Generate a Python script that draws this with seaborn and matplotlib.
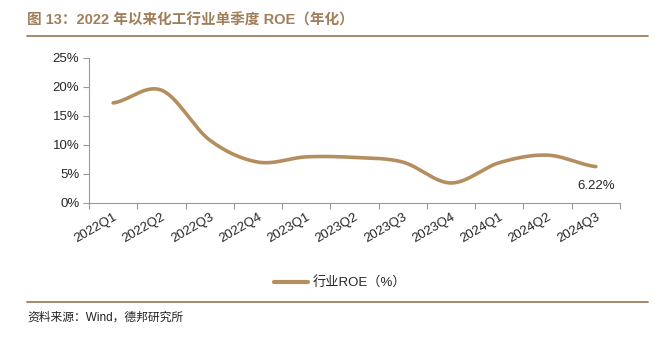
import numpy as np
import pandas as pd
import matplotlib
matplotlib.use("Agg")
import matplotlib.pyplot as plt
import seaborn as sns

categories = ["2022Q1", "2022Q2", "2022Q3", "2022Q4", "2023Q1", "2023Q2",
              "2023Q3", "2023Q4", "2024Q1", "2024Q2", "2024Q3"]
roe = [17.2, 19.4, 10.8, 7.0, 7.9, 7.8, 7.0, 3.4, 6.9, 8.2, 6.22]
series_name = "行业ROE（%）"
yticks = [0, 5, 10, 15, 20, 25]

sns.set_theme(style="white")
plt.rcParams['font.family'] = ['Liberation Sans', 'Noto Sans CJK SC', 'DejaVu Sans']
plt.rcParams['axes.unicode_minus'] = False

LINE_C = "#B48E5F"
TITLE_C = "#A07E5A"

fig = plt.figure(figsize=(6.55, 3.41), dpi=100)
ax = fig.add_axes([0.1359, 0.4056, 0.9466 - 0.1359, 0.8308 - 0.4056])

# Smooth (Catmull-Rom, like Excel's smoothed line) rendering through the data points
x = np.arange(len(roe), dtype=float)
y = np.array(roe, dtype=float)
xs, ys = [], []
for i in range(len(x) - 1):
    p0 = y[i - 1] if i > 0 else y[i]
    p1, p2 = y[i], y[i + 1]
    p3 = y[i + 2] if i + 2 < len(y) else y[i + 1]
    c1 = p1 + (p2 - p0) / 6.0
    c2 = p2 - (p3 - p1) / 6.0
    t = np.linspace(0, 1, 30, endpoint=(i == len(x) - 2))
    b = (1 - t) ** 3 * p1 + 3 * (1 - t) ** 2 * t * c1 + 3 * (1 - t) * t ** 2 * c2 + t ** 3 * p2
    xs.extend(x[i] + t)
    ys.extend(b)
df = pd.DataFrame({"x": xs, "y": ys, "s": series_name})
sns.lineplot(data=df, x="x", y="y", hue="s", palette=[LINE_C], linewidth=2.6,
             ax=ax, legend=True, sort=False)

ax.set_xlim(-0.5, len(categories) - 0.5)
ax.set_ylim(0, 25)
ax.set_yticks(yticks)
ax.set_yticklabels([f"{v}%" for v in yticks], fontsize=9.5)
ax.set_xticks(range(len(categories)))
ax.set_xticklabels(categories, rotation=30, ha="right", rotation_mode="anchor", fontsize=9.5)
ax.tick_params(axis="x", length=0, pad=6)
ax.tick_params(axis="y", length=4, width=0.8, color="#999999", left=True, pad=3)
ax.set_xticks(np.arange(-0.5, len(categories) + 0.5, 1), minor=True)
ax.tick_params(axis="x", which="minor", length=4, width=0.8, color="#999999", bottom=True)
ax.set_xlabel("")
ax.set_ylabel("")
for side in ["top", "right"]:
    ax.spines[side].set_visible(False)
for side in ["left", "bottom"]:
    ax.spines[side].set_color("#999999")
    ax.spines[side].set_linewidth(0.8)

ax.annotate(f"{roe[-1]:.2f}%", xy=(len(roe) - 1, roe[-1]), xytext=(0, -14),
            textcoords="offset points", ha="center", va="center", fontsize=9.5)

leg = ax.legend(loc="center", bbox_to_anchor=(340 / 655, 1 - 283 / 341),
                bbox_transform=fig.transFigure, frameon=False, fontsize=9.5,
                handlelength=2.6, handletextpad=0.3, borderaxespad=0)
for h in leg.get_lines():
    h.set_linewidth(3)

fig.text(27 / 655, 1 - 20 / 341, "图 13：2022 年以来化工行业单季度 ROE（年化）",
         fontsize=10.5, fontweight="bold", color=TITLE_C, ha="left", va="center",
         family=['Liberation Sans', 'Noto Sans CJK SC'])
fig.add_artist(plt.Line2D([27 / 655, 648 / 655], [1 - 36 / 341, 1 - 36 / 341],
                          color=TITLE_C, linewidth=1.3, transform=fig.transFigure))
fig.add_artist(plt.Line2D([27 / 655, 648 / 655], [1 - 302 / 341, 1 - 302 / 341],
                          color=TITLE_C, linewidth=1.3, transform=fig.transFigure))
fig.text(27 / 655, 1 - 318 / 341, "资料来源：Wind，德邦研究所", fontsize=8.5,
         ha="left", va="center", color="#222222",
         family=['Liberation Sans', 'Noto Sans CJK SC'])

fig.savefig("out.png", dpi=100)
